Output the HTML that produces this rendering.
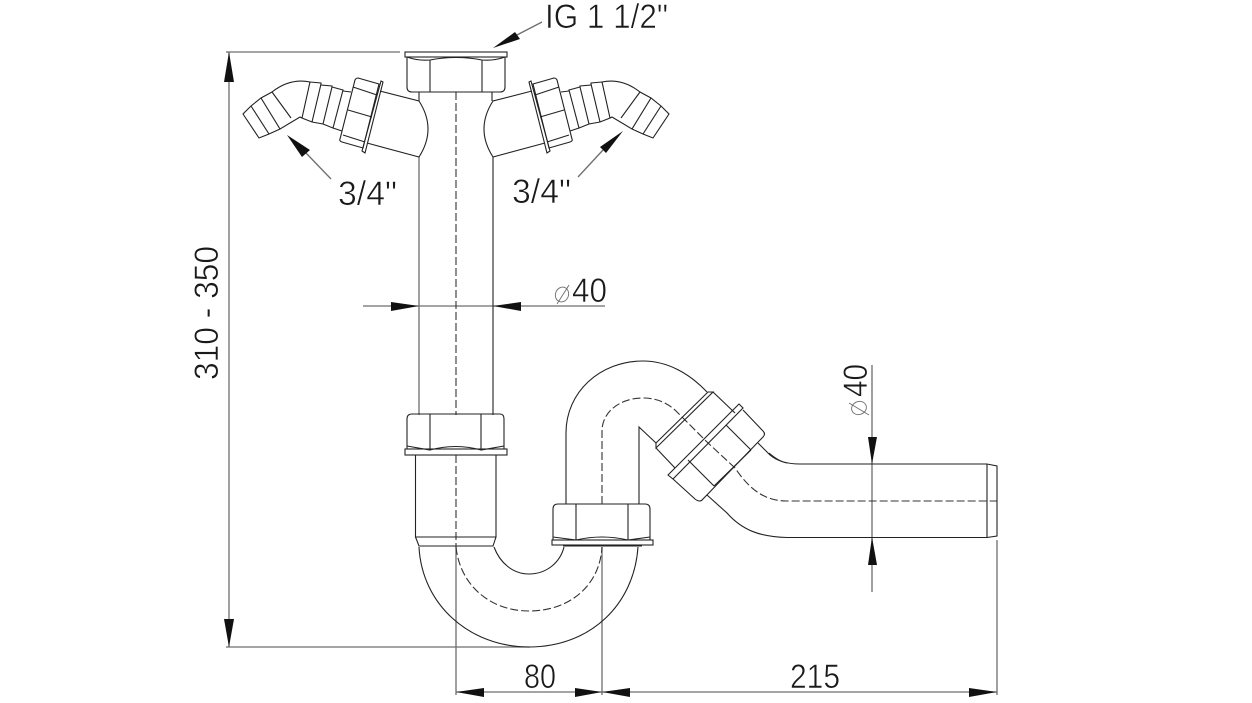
<!DOCTYPE html>
<html><head><meta charset="utf-8"><style>
html,body{margin:0;padding:0;background:#fff;width:1252px;height:703px;overflow:hidden}
svg{display:block}
text{font-family:"Liberation Sans",sans-serif;fill:#1a1a1a;font-size:34px;stroke:#fff;stroke-width:.6;paint-order:fill stroke}
.l{fill:none;stroke:#222;stroke-width:1.1}
.g{fill:none;stroke:#6e6e6e;stroke-width:1.3}
.d{fill:none;stroke:#333;stroke-width:1.1;stroke-dasharray:8 3}
.a{fill:#111;stroke:none}
</style></head><body>
<svg width="1252" height="703" viewBox="0 0 1252 703" xmlns="http://www.w3.org/2000/svg">
<defs>
<g id="branch">
<path class="l" d="M380 91L419 101Q437 129 419 157L367 143"/>
<path class="l" d="M358 78L379 84L363 148L342 142Q339 141 340 139L355 80Q356 78 358 78Z" fill="#fff"/>
<path class="l" d="M381 81L383 82L365 153L362 151Z"/>
<path class="l" d="M353 87L377 95M348 110L372 117M343 135L365 142"/>
<path class="l" d="M343 91L351 92M333 128L342 131"/>
<path class="l" d="M310 82L321 83L321 85L332 86L332 87L343 90L333 128L323 124L312 122L302 118Z"/>
<path class="l" d="M321 84L312 122M332 87L323 124"/>
<path class="l" d="M310 82Q290 78 272 92L261 98L251 106L243 114L259 138L269 134L280 129L300 117L302 118"/>
<path class="l" d="M272 92L291 118M261 98L280 129M251 106L269 134"/>
</g>
</defs>

<!-- dimension lines -->
<path class="g" d="M226 52H400M229 52V647M226 647H530M363 306H605M456 547V695M602 547V695M997 540V695M456 692H997M872 365V592M872 464V537"/>
<polygon class="a" points="229,52 224,82 234,82"/>
<polygon class="a" points="229,647 224,619 234,619"/>
<polygon class="a" points="419,306 391,302 391,311"/>
<polygon class="a" points="493,306 521,302 521,311"/>
<polygon class="a" points="456,692 484,688 484,697"/>
<polygon class="a" points="602,692 575,688 575,697"/>
<polygon class="a" points="602,692 630,688 630,697"/>
<polygon class="a" points="997,692 969,688 969,697"/>
<polygon class="a" points="872,464 868,437 877,437"/>
<polygon class="a" points="872,537 868,565 877,565"/>

<!-- leader arrows -->
<path class="g" d="M542 22L515 36M331 179L306 153M578 177L603 150"/>
<polygon class="a" points="493,48 515,32 520,39"/>
<polygon class="a" points="287,135 310,150 302,157"/>
<polygon class="a" points="623,131 600,147 606,153"/>

<!-- upper pipe and top nut -->
<path class="l" d="M419 92V101M492 92V101M493 157V415"/>
<path class="g" d="M419 157V415"/>
<path class="d" d="M456 92V415M456 455V547"/>
<rect class="l" x="405" y="52" width="102" height="5" />
<path class="l" d="M407 57V87Q407 92 412 92H500Q505 92 505 87V57"/>
<path class="l" d="M407 57Q418 61 430 60Q456 55 482 60Q494 61 505 57M430 60V92M482 60V92"/>

<use href="#branch"/>
<use href="#branch" transform="translate(912 0) scale(-1 1)"/>

<!-- lower nut, left -->
<path class="l" d="M407 449V419Q407 414 412 414H500Q504 414 504 419V449"/>
<rect class="l" x="405" y="449" width="102" height="6"/>
<path class="l" d="M407 446L430 450Q456 443 481 450L504 446M430 414V450M481 414V450"/>
<path class="l" d="M415.500 455V537H496V455M415.500 537L419 546H493L496 537"/>

<!-- trap -->
<path class="l" d="M419 547C422 605 470 647 529 647C590 647 634 605 638 547"/>
<path class="l" d="M494 547C500 563 513 574 529 574C546 574 560 563 564 547"/>
<path class="d" d="M456 547C460 585 490 611 529 611C570 611 600 585 602 547"/>

<!-- lower nut, right -->
<path class="l" d="M553 540V509Q553 504 558 504H645Q650 504 650 509V540"/>
<rect class="l" x="552" y="540" width="101" height="5"/>
<path class="l" d="M553 537L576 540Q602 534 628 540L650 537M576 504V540M628 504V540M563 546H642"/>

<!-- upper bend -->
<path class="l" d="M566 504V433C566 392 600 361 643 361C668 361 690 374 707 392"/>
<path class="d" d="M602 504V431C602 412 620 398 643 398C657 398 668 403 677 412L707 442L735 468C750 490 765 501 787 501H997"/>
<path class="l" d="M639 504V427L656 443"/>

<!-- angled nuts -->
<path class="l" d="M656 443L708 392L713 392L656 448ZM656 448L675 468M713 392L735 413"/>
<path class="l" d="M668 475L739 404L743 408L673 479ZM673 479L695 499Q700 503 703 499L763 437Q766 434 763 431L743 410"/>
<path class="l" d="M688 460L714 486M726 425L751 450M714 486L751 450"/>

<!-- outlet -->
<path class="l" d="M758 443L770 455C777 461 788 464 800 464H987L997 466V536L987 537.500H787C760 537 742 530 727 513L707 495"/>
<path class="l" d="M769 453C776 459 781 462 787 463M987 464V537"/>

<!-- labels -->
<text x="545" y="28" textLength="123" lengthAdjust="spacingAndGlyphs">IG 1 1/2"</text>
<text x="338" y="205" textLength="59" lengthAdjust="spacingAndGlyphs">3/4"</text>
<text x="512" y="203" textLength="59" lengthAdjust="spacingAndGlyphs">3/4"</text>
<text x="572" y="302" textLength="35" lengthAdjust="spacingAndGlyphs">40</text>
<text x="524" y="688" textLength="32" lengthAdjust="spacingAndGlyphs">80</text>
<text x="790" y="688" textLength="50" lengthAdjust="spacingAndGlyphs">215</text>
<text transform="translate(218 380) rotate(-90)" textLength="134" lengthAdjust="spacingAndGlyphs">310 - 350</text>
<text transform="translate(867 397) rotate(-90)" textLength="33" lengthAdjust="spacingAndGlyphs">40</text>

<!-- diameter symbols -->
<ellipse cx="562" cy="294.500" rx="6.500" ry="7.500" transform="rotate(20 562 294.500)" class="g" style="stroke-width:.9"/>
<path class="g" style="stroke-width:.9" d="M557 304L569 285"/>
<ellipse cx="859" cy="408" rx="7.500" ry="6.500" transform="rotate(-20 859 408)" class="g" style="stroke-width:.9"/>
<path class="g" style="stroke-width:.9" d="M849 403L869 415"/>
</svg>
</body></html>
